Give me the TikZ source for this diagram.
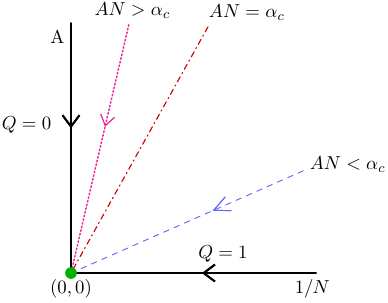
\documentclass[tikz,border=0pt]{standalone}
\usepackage{tkz-euclide}
\usetikzlibrary{arrows.meta,calc,decorations.markings}

\tikzset{
  midarrow/.style 2 args={postaction={decorate},
    decoration={markings,mark=at position #1 with {\arrow{#2}}}},
  axis/.style={line width=1pt,color=black},
  flow/.style={line width=0.5pt}
}

\begin{document}
\begin{tikzpicture}
\useasboundingbox (-1.327,-0.542) rectangle (5.925,5.103);

\tkzDefPoints{0/0/O,0/4.67/T,4.58/0/E,1.08/4.64/M,2.56/4.60/R,4.34/1.91/B}
\tkzDefPoints{0/4.41/Ap,0/2.77/Qz,2.84/0/Qo}

% the three lines through the origin
\tkzDrawSegment[line width=0.8pt,color=magenta!85,dash pattern=on 0.8pt off 1.2pt,
  midarrow={0.41}{Straight Barb[length=5.5pt,width=7.5pt,line width=0.5pt]}](M,O)
\tkzDrawSegment[line width=0.6pt,color=red!80!black,dashdotted](R,O)
\tkzDrawSegment[line width=0.5pt,color=blue!60,dashed,
  midarrow={0.39}{Straight Barb[length=8.5pt,width=8pt,line width=0.5pt]}](B,O)

% the axes
\tkzDrawSegment[axis,midarrow={0.42}{Straight Barb[length=6pt,width=9pt]}](T,O)
\tkzDrawSegment[axis,midarrow={0.465}{Straight Barb[length=6pt,width=9pt]}](E,O)

\fill[green!70!black] (O) circle (3.1pt);

\node[above,xshift=2pt] (lgt) at (M) {$AN>\alpha_c$};
\node[anchor=south west,xshift=-3pt] (leq) at (R) {$AN=\alpha_c$};
\node[anchor=west,yshift=3.5pt] (llt) at (B) {$AN<\alpha_c$};
\node[left] (lA) at (Ap) {A};
\node[left,xshift=-7pt] (lQz) at (Qz) {$Q=0$};
\node[above,yshift=2.5pt] (lQo) at (Qo) {$Q=1$};
\node[below] (lO) at (O) {$(0,0)$};
\node[below,xshift=-2pt] (lE) at (E) {$1/N$};

\end{tikzpicture}
\end{document}
